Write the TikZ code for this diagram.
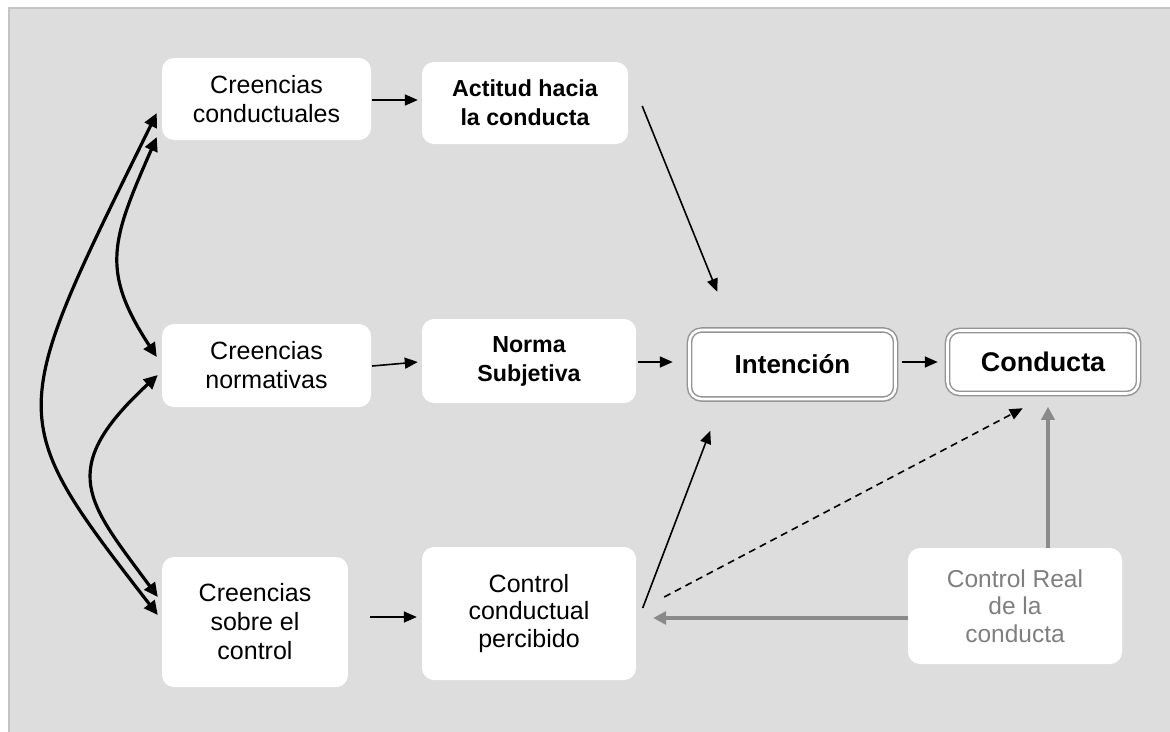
\documentclass[tikz,border=0pt]{standalone}
\usepackage{fontspec}
\setmainfont{Liberation Sans}
\usetikzlibrary{arrows.meta,calc}
\definecolor{panelfill}{HTML}{DDDDDD}
\definecolor{panelline}{HTML}{C4C4C4}
\definecolor{grayarrow}{HTML}{8A8A8A}
\definecolor{graytext}{HTML}{7F7F7F}
\definecolor{dblline}{HTML}{959595}
\tikzset{
  box/.style={fill=white, rounded corners=12pt, inner sep=0pt, align=center},
  reg/.style={font=\fontsize{25}{29}\selectfont},
  bld/.style={font=\bfseries\fontsize{23.2}{29}\selectfont},
  dbl/.style={draw=dblline, line width=1.5pt, double=white, double distance=2.6pt, fill=white,
              rounded corners=12pt, inner sep=0pt, align=center, font=\bfseries\fontsize{26}{29}\selectfont},
  thin/.style={line width=1.6pt, -{Triangle[length=13pt,width=11pt]}},
  curv/.style={line width=3.2pt, {Triangle[length=14pt,width=13pt]}-{Triangle[length=14pt,width=13pt]}},
  grarr/.style={grayarrow, line width=3.5pt, -{Triangle[length=13pt,width=13pt]}},
}
\begin{document}
\begin{tikzpicture}[x=1pt,y=-1pt]
\useasboundingbox (0,0) rectangle (1170,731);
\fill[panelfill] (9,8) rectangle (1180,740);
\draw[panelline, line width=2pt] (9,740) -- (9,8) -- (1180,8);

% nodes
\node[box,reg,minimum width=209pt,minimum height=82pt] (cc) at (266.5,99) {Creencias\\conductuales};
\node[box,bld,minimum width=206pt,minimum height=82pt] (act) at (525,103) {Actitud hacia\\la conducta};
\node[box,reg,minimum width=209pt,minimum height=83pt] (cn) at (266.5,365.5) {Creencias\\normativas};
\node[box,bld,minimum width=214pt,minimum height=84pt] (ns) at (529,361) {Norma\\Subjetiva};
\node[dbl,minimum width=206pt,minimum height=69pt] (int) at (792.5,364.5) {Intención};
\node[dbl,minimum width=191pt,minimum height=63pt,font=\bfseries\fontsize{27}{29}\selectfont] (con) at (1043,362) {Conducta};
\node[box,reg,minimum width=186pt,minimum height=130pt] (csc) at (255,622) {Creencias\\sobre el\\control};
\node[box,reg,minimum width=214pt,minimum height=133pt,font=\fontsize{25}{27.5}\selectfont] (ccp) at (529,613.5) {Control\\conductual\\percibido};
\node[box,minimum width=214pt,minimum height=116pt,text=graytext,font=\fontsize{24.5}{27.5}\selectfont] (cr) at (1015,606) {Control Real\\de la\\conducta};

% straight arrows
\draw[thin] ($(cc.east)+(1,1)$) -- ($(act.west)+(-4,-3)$);
\draw[thin] ($(act.east)+(14,3)$) -- ($(int.north west)+(28.5,-37.5)$);
\draw[thin] ($(cn.east)+(1,0.5)$) -- ($(ns.west)+(-4,1)$);
\draw[thin] ($(ns.east)+(2,1)$) -- ($(int.west)+(-16,-2.5)$);
\draw[thin] ($(int.east)+(6,-2.5)$) -- ($(con.west)+(-9,0)$);
\draw[thin] ($(csc.east)+(22,-5)$) -- ($(ccp.west)+(-5,3.5)$);
\draw[thin] ($(ccp.east)+(6.5,-5.5)$) -- ($(int.south west)+(21.5,31)$);
\draw[thin,dashed,dash pattern=on 7pt off 5pt] ($(ccp.east)+(28,-16.5)$) -- ($(con.south west)+(76,14)$);
\draw[grarr] (cr.north -| {(1048,0)}) -- ($(con.south -| {(1048,0)})+(0,12.5)$);
\draw[grarr] (cr.west |- {(0,618)}) -- ($(ccp.east |- {(0,618)})+(17,0)$);

% curved double-headed arrows
\coordinate (a1) at ($(cc.west)+(-5,14)$);
\coordinate (a2) at ($(csc.west)+(-4,-7)$);
\coordinate (b1) at ($(cc.west)+(-5,38)$);
\coordinate (b2) at ($(cn.west)+(-5,-8.5)$);
\coordinate (c1) at ($(cn.west)+(-4,9.5)$);
\coordinate (c2) at ($(csc.west)+(-4,-25)$);
\draw[curv] (a1) .. controls +(-150,305) and +(-155,-200) .. (a2);
\draw[curv] (b1) .. controls +(-45,103) and +(-57,-87) .. (b2);
\draw[curv] (c1) .. controls +(-103,95) and +(-70,-95) .. (c2);
\end{tikzpicture}
\end{document}
